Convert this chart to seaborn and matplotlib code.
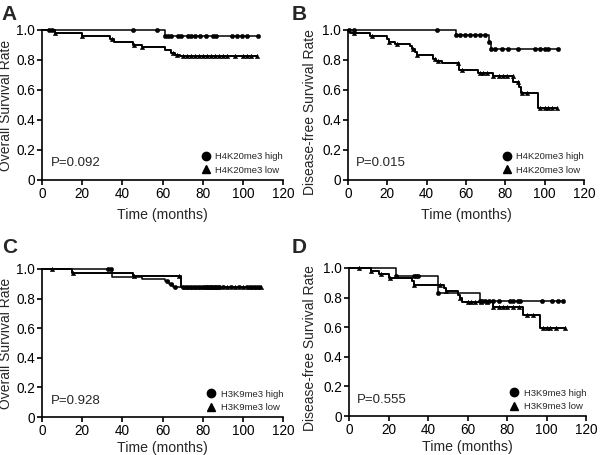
import numpy as np
import pandas as pd
import matplotlib
matplotlib.use("Agg")
import matplotlib.pyplot as plt
from matplotlib.lines import Line2D
import seaborn as sns

# ---------------- data ----------------
# Panel A : overall survival, H4K20me3
a_high_times = [0, 61, 107.5]
a_high_surv = [1.0, 0.962, 0.962]
a_high_cens = [3.3, 4.8, 45.5, 57.5, 61, 62.5, 64, 67.5, 69, 72.5, 74, 76, 78.5, 81.5, 85, 86.5, 94.8, 97, 99.6, 102, 107.5]
a_low_times = [0, 6.6, 20, 34, 36, 45.5, 50, 61, 64, 66, 68.5, 107]
a_low_surv = [1.0, 0.98, 0.96, 0.94, 0.922, 0.902, 0.884, 0.864, 0.848, 0.836, 0.824, 0.824]
a_low_cens = [6.6, 20, 35, 46, 50, 65, 67, 70, 72, 74, 76, 78, 80, 82, 84, 86, 88, 90, 92, 96, 100, 102, 104, 107]

# Panel B : disease-free survival, H4K20me3
b_high_times = [0, 55, 71.5, 72.5, 107.5]
b_high_surv = [1.0, 0.966, 0.917, 0.872, 0.872]
b_high_cens = [0.5, 3, 45.2, 55, 57, 59.5, 62, 64.6, 67.1, 69.7, 71.9, 72.9, 74.7, 78.1, 81.5, 86.6, 95.1, 97.6, 100.2, 101.8, 106.9]
b_low_times = [0, 1, 11, 20, 21, 24, 31.5, 32.5, 34, 35, 43.3, 45, 47.6, 56.6, 66.3, 73.6, 84.1, 87, 88, 96.5, 106.2]
b_low_surv = [1.0, 0.982, 0.962, 0.94, 0.92, 0.905, 0.89, 0.87, 0.85, 0.83, 0.807, 0.79, 0.778, 0.734, 0.716, 0.693, 0.655, 0.62, 0.577, 0.483, 0.483]
b_low_cens = [3, 12, 21, 25, 33, 35, 44, 46, 56, 58, 67, 68.8, 70.6, 73.7, 77, 79, 81, 84, 86.6, 88.4, 91, 97.6, 100, 101.7, 103.7, 106.2]

# Panel C : overall survival, H3K9me3
c_high_times = [0, 35, 50, 61, 63, 65, 109]
c_high_surv = [1.0, 0.944, 0.933, 0.92, 0.90, 0.881, 0.881]
c_high_cens = [33, 34.5, 62, 64, 66, 70, 72, 74, 76, 78, 80, 81, 82, 83, 84, 85, 86, 87, 88, 90, 94, 98, 102, 104, 106, 108]
c_low_times = [0, 15, 45.5, 69, 109]
c_low_surv = [1.0, 0.975, 0.953, 0.881, 0.881]
c_low_cens = [5, 15.5, 46, 68, 71, 73, 75, 77, 79, 82, 84, 86, 88, 92, 96, 100, 103, 105, 107, 109]

# Panel D : disease-free survival, H3K9me3
d_high_times = [0, 24, 45, 66.5, 108.5]
d_high_surv = [1.0, 0.944, 0.833, 0.778, 0.778]
d_high_cens = [24, 33, 34, 35, 45, 66.5, 67.5, 69, 71, 73, 76, 81.5, 83, 85.6, 86.6, 97.6, 103, 106, 108.5]
d_low_times = [0, 11, 15, 20, 32, 33, 48, 49, 55, 56, 57, 73, 88, 96.5, 109.5]
d_low_surv = [1.0, 0.98, 0.96, 0.933, 0.91, 0.888, 0.865, 0.843, 0.82, 0.795, 0.77, 0.739, 0.68, 0.595, 0.595]
d_low_cens = [5, 11, 16, 21, 33, 46, 49, 56, 60, 62, 64, 67, 70, 73, 76, 78, 80, 83, 86, 90, 93, 98, 100, 102, 105, 109.5]

panel_letters = ["A", "B", "C", "D"]
y_labels = ["Overall Survival Rate", "Disease-free Survival Rate",
            "Overall Survival Rate", "Disease-free Survival Rate"]
p_values = ["P=0.092", "P=0.015", "P=0.928", "P=0.555"]
legend_labels = [["H4K20me3 high", "H4K20me3 low"], ["H4K20me3 high", "H4K20me3 low"],
                 ["H3K9me3 high", "H3K9me3 low"], ["H3K9me3 high", "H3K9me3 low"]]
x_ticks = [0, 20, 40, 60, 80, 100, 120]
y_ticks = [0, 0.2, 0.4, 0.6, 0.8, 1.0]
y_ticklabels = ["0", "0.2", "0.4", "0.6", "0.8", "1.0"]

panels = [
    (a_high_times, a_high_surv, a_high_cens, a_low_times, a_low_surv, a_low_cens),
    (b_high_times, b_high_surv, b_high_cens, b_low_times, b_low_surv, b_low_cens),
    (c_high_times, c_high_surv, c_high_cens, c_low_times, c_low_surv, c_low_cens),
    (d_high_times, d_high_surv, d_high_cens, d_low_times, d_low_surv, d_low_cens),
]

# ---------------- style ----------------
sns.set_style("ticks")
plt.rcParams["font.family"] = ["Liberation Sans", "DejaVu Sans"]
plt.rcParams["axes.linewidth"] = 1.2
plt.rcParams["xtick.major.width"] = 1.2
plt.rcParams["ytick.major.width"] = 1.2
plt.rcParams["xtick.major.size"] = 3.5
plt.rcParams["ytick.major.size"] = 3.5
plt.rcParams["xtick.color"] = "black"
plt.rcParams["ytick.color"] = "black"
plt.rcParams["axes.edgecolor"] = "black"

fig = plt.figure(figsize=(6.0, 4.55), dpi=100)
positions = [
    [0.070, 0.6044, 0.4017, 0.3297],
    [0.580, 0.6044, 0.3933, 0.3297],
    [0.070, 0.0835, 0.4017, 0.3253],
    [0.5817, 0.0857, 0.3950, 0.3253],
]
letter_pos = [(0.003, 0.99), (0.486, 0.99), (0.003, 0.476), (0.486, 0.476)]
xlabel_pads = [5, 5, 2.5, 2.5]
ylabel_x = [-0.12, -0.13, -0.12, -0.133]
ylabel_y = [0.5, 0.45, 0.5, 0.46]


def step_value(times, surv, t):
    idx = np.searchsorted(np.asarray(times), t, side="right") - 1
    return np.asarray(surv)[np.clip(idx, 0, len(surv) - 1)]


for i, (ht, hs, hc, lt, ls, lc) in enumerate(panels):
    ax = fig.add_axes(positions[i])
    for times, surv, cens, mk, lw in [(ht, hs, hc, "o", 1.1), (lt, ls, lc, "^", 1.4)]:
        df = pd.DataFrame({"t": times, "s": surv})
        sns.lineplot(data=df, x="t", y="s", ax=ax, drawstyle="steps-post",
                     estimator=None, sort=False, color="black", linewidth=lw)
        cdf = pd.DataFrame({"t": cens, "s": step_value(times, surv, np.asarray(cens))})
        sns.scatterplot(data=cdf, x="t", y="s", ax=ax, marker=mk, s=10,
                        color="black", edgecolor="black", linewidth=0.3,
                        clip_on=False, zorder=5)
    ax.set_xlim(0, 120)
    ax.set_ylim(0, 1.0)
    ax.set_xticks(x_ticks)
    ax.set_yticks(y_ticks)
    ax.set_yticklabels(y_ticklabels)
    ax.tick_params(labelsize=9.8, pad=1.5, colors="black")
    ax.set_xlabel("Time (months)", fontsize=10.2, labelpad=xlabel_pads[i])
    ax.set_ylabel(y_labels[i], fontsize=10, labelpad=0)
    ax.yaxis.set_label_coords(ylabel_x[i], ylabel_y[i])
    sns.despine(ax=ax)
    for ln in ax.get_lines():
        ln.set_clip_on(False)
    ax.text(0.035, 0.11, p_values[i], transform=ax.transAxes, fontsize=9.5,
            va="center", ha="left")
    handles = [Line2D([], [], marker="o", color="black", linestyle="none", markersize=6),
               Line2D([], [], marker="^", color="black", linestyle="none", markersize=6)]
    ax.legend(handles, legend_labels[i], loc="lower right", bbox_to_anchor=(1.0, 0.035),
              frameon=False, fontsize=6.8, handlelength=1.0, handletextpad=0.5,
              labelspacing=0.45, borderpad=0, borderaxespad=0)
    fig.text(letter_pos[i][0], letter_pos[i][1], panel_letters[i], fontsize=15,
             fontweight="bold", va="top", ha="left")

fig.savefig("out.png", dpi=100)
